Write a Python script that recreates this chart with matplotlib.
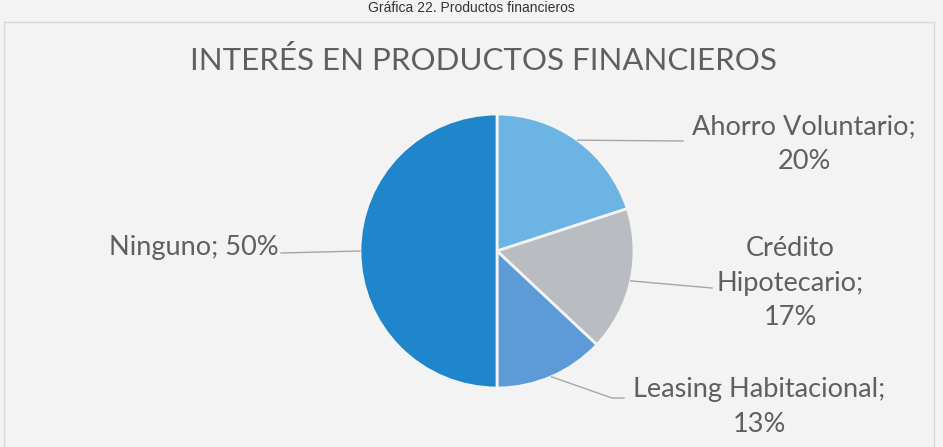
import matplotlib
matplotlib.use("Agg")
from matplotlib import pyplot as plt
from matplotlib.patches import Rectangle
import numpy as np

# datos
categorias = ["Ahorro Voluntario", "Crédito Hipotecario", "Leasing Habitacional", "Ninguno"]
porcentajes = [20, 17, 13, 50]
etiquetas = ["Ahorro Voluntario;\n20%", "Crédito\nHipotecario;\n17%",
             "Leasing Habitacional;\n13%", "Ninguno; 50%"]
colores = ["#6cb4e4", "#b9bcc1", "#5c9ad8", "#1f86cb"]

titulo = "INTERÉS EN PRODUCTOS FINANCIEROS"
caption = "Gráfica 22. Productos financieros"

W, H = 943, 447
fig = plt.figure(figsize=(W / 100, H / 100), dpi=100)
fig.patch.set_facecolor("#f3f3f3")
ax = fig.add_axes([0, 0, 1, 1])

cx, cy, r = 497, H - 251, 137
wedges, _ = ax.pie(porcentajes, colors=colores, startangle=90, counterclock=False,
                   center=(cx, cy), radius=r, frame=True,
                   wedgeprops=dict(edgecolor="#f3f3f3", linewidth=2))
ax.set_xlim(0, W)
ax.set_ylim(0, H)
ax.set_aspect("equal")
ax.axis("off")

# marco del grafico
ax.add_patch(Rectangle((4, -5), 930, H - 17, fill=False, edgecolor="#d9d9d9", lw=1))

fuente = "Lato"
gris = "#5f5f5f"

# posiciones de las etiquetas (pixeles, y desde arriba) y fin de la linea guia
pos_texto = [(804, 144), (790, 283), (759, 407), (194, 247)]
fin_linea = [[(683, 141)], [(712, 288)], [(612, 398), (624, 398)], [(281, 253)]]

for w, txt, (tx, ty), fin in zip(wedges, etiquetas, pos_texto, fin_linea):
    ang = np.deg2rad((w.theta1 + w.theta2) / 2)
    x0 = cx + r * np.cos(ang)
    y0 = cy + r * np.sin(ang)
    xs = [x0] + [p[0] for p in fin]
    ys = [y0] + [H - p[1] for p in fin]
    ax.plot(xs, ys, color="#a6a6a6", lw=1)
    ax.text(tx, H - ty, txt, ha="center", va="center", fontsize=19.5,
            color=gris, family=fuente, linespacing=1.48)

ax.text(483, H - 61, titulo, ha="center", va="center", fontsize=22.5,
        color=gris, family=fuente)
ax.text(471, H - 0.5, caption, ha="center", va="top", fontsize=10,
        color="#333333", family="Liberation Sans")

fig.savefig("out.png", dpi=100, facecolor=fig.get_facecolor())
